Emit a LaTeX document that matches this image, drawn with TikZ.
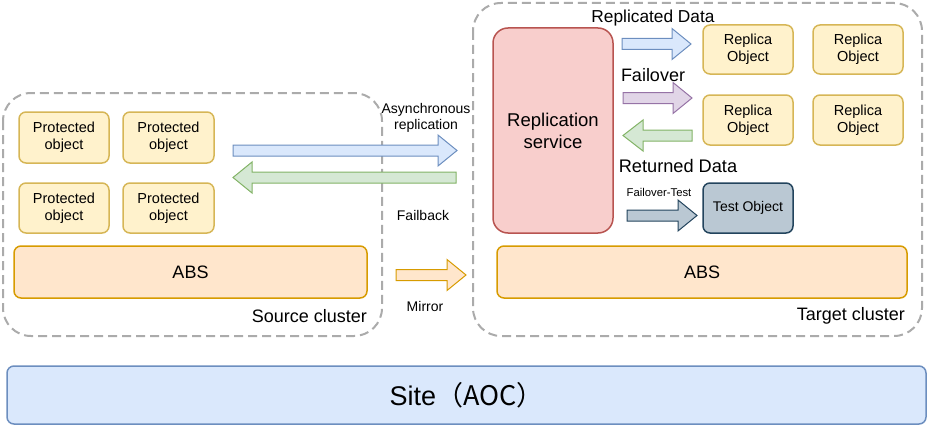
\documentclass[tikz,border=0pt]{standalone}
\usepackage{fontspec}
\setmainfont{Liberation Sans}
\newfontfamily\cjkfont{Noto Sans CJK SC}
\begin{document}
\begin{tikzpicture}[x=1pt,y=-1pt,
  cluster/.style={draw=black!33, line width=2pt, dash pattern=on 9pt off 5pt, rounded corners=28pt},
  prot/.style={draw={rgb,255:red,214;green,182;blue,86}, fill={rgb,255:red,255;green,242;blue,204}, line width=1.5pt, rounded corners=7pt, align=center, font=\fontsize{14.5}{17}\selectfont},
  absbox/.style={draw={rgb,255:red,215;green,155;blue,0}, fill={rgb,255:red,255;green,230;blue,204}, line width=1.5pt, rounded corners=7pt, align=center, font=\fontsize{18}{20}\selectfont},
  blue arr/.style={draw={rgb,255:red,108;green,142;blue,191}, fill={rgb,255:red,218;green,232;blue,252}, line width=1pt},
  green arr/.style={draw={rgb,255:red,130;green,179;blue,102}, fill={rgb,255:red,213;green,232;blue,212}, line width=1pt},
  orange arr/.style={draw={rgb,255:red,215;green,155;blue,0}, fill={rgb,255:red,255;green,230;blue,204}, line width=1pt},
  purple arr/.style={draw={rgb,255:red,150;green,115;blue,166}, fill={rgb,255:red,225;green,213;blue,231}, line width=1pt},
  slate arr/.style={draw={rgb,255:red,35;green,68;blue,93}, fill={rgb,255:red,186;green,200;blue,211}, line width=1pt},
  lbl/.style={inner sep=0pt, align=center}
]
\useasboundingbox (0,0) rectangle (928,428);
% right-pointing block arrow: style, tail x, tip x, centre y, head length
\newcommand\blkR[5]{\draw[#1] (#2,#4-5.5) -- (#3-#5,#4-5.5) -- (#3-#5,#4-15.5) -- (#3,#4) -- (#3-#5,#4+15.5) -- (#3-#5,#4+5.5) -- (#2,#4+5.5) -- cycle;}
% left-pointing block arrow: style, tip x, tail x, centre y, head length
\newcommand\blkL[5]{\draw[#1] (#3,#4-5.5) -- (#2+#5,#4-5.5) -- (#2+#5,#4-15.5) -- (#2,#4) -- (#2+#5,#4+15.5) -- (#2+#5,#4+5.5) -- (#3,#4+5.5) -- cycle;}

% clusters
\draw[cluster] (3,93) rectangle (382,336);
\draw[cluster] (473,3) rectangle (922,336);

% source cluster content
\node[prot, minimum width=90pt, minimum height=51pt] (p1) at (64,137.5) {Protected\\object};
\node[prot, minimum width=91pt, minimum height=51pt] (p2) at (168.5,137.5) {Protected\\object};
\node[prot, minimum width=90pt, minimum height=50pt] (p3) at (64,208) {Protected\\object};
\node[prot, minimum width=91pt, minimum height=50pt] (p4) at (168.5,208) {Protected\\object};
\node[absbox, minimum width=353pt, minimum height=52pt] (abs1) at (190.5,272) {ABS};
\node[lbl, anchor=east, font=\fontsize{18}{20}\selectfont] (srclbl) at (367,316) {Source cluster};

% target cluster content
\node[draw={rgb,255:red,184;green,84;blue,80}, fill={rgb,255:red,248;green,206;blue,204}, line width=1.5pt, rounded corners=15pt, minimum width=120pt, minimum height=205pt, align=center, font=\fontsize{18.5}{22}\selectfont] (rs) at (553,130.5) {Replication\\service};
\node[prot, minimum width=90pt, minimum height=49pt] (r1) at (748,49.5) {Replica\\Object};
\node[prot, minimum width=90pt, minimum height=49pt] (r2) at (858,49.5) {Replica\\Object};
\node[prot, minimum width=90pt, minimum height=50pt] (r3) at (748,120) {Replica\\Object};
\node[prot, minimum width=90pt, minimum height=50pt] (r4) at (858,120) {Replica\\Object};
\node[draw={rgb,255:red,35;green,68;blue,93}, fill={rgb,255:red,186;green,200;blue,211}, line width=1.5pt, rounded corners=7pt, minimum width=90pt, minimum height=50pt, font=\fontsize{14}{16}\selectfont] (test) at (748,208) {Test Object};
\node[absbox, minimum width=410pt, minimum height=52pt] (abs2) at (702,272) {ABS};
\node[lbl, anchor=east, font=\fontsize{18}{20}\selectfont] (tgtlbl) at (905,316) {Target cluster};

% site
\node[draw={rgb,255:red,108;green,142;blue,191}, fill={rgb,255:red,218;green,232;blue,252}, line width=1.5pt, rounded corners=7pt, minimum width=919pt, minimum height=58pt, font=\fontsize{27}{30}\selectfont] (site) at (466.5,395) {Site\cjkfont{（}AOC\cjkfont{）}};

% inter-cluster arrows
\blkR{blue arr}{233}{457}{150.5}{19}
\blkL{green arr}{233}{456}{177.5}{19}
\blkR{orange arr}{396}{466}{275}{19}
\node[lbl, font=\fontsize{14}{16.5}\selectfont] (asynclbl) at (426,118) {Asynchronous\\replication};
\node[lbl, font=\fontsize{14}{16}\selectfont] (fblbl) at (423,215) {Failback};
\node[lbl, font=\fontsize{14}{16}\selectfont] (mirlbl) at (425,306) {Mirror};

% target internal arrows
\blkR{blue arr}{622}{691}{44}{19}
\blkR{purple arr}{623}{692}{98}{19}
\blkL{green arr}{623}{692}{135.5}{20}
\blkR{slate arr}{627}{697}{215.5}{19}
\node[lbl, font=\fontsize{17.3}{19}\selectfont] (rdlbl) at (653,18) {Replicated Data};
\node[lbl, font=\fontsize{18}{20}\selectfont] (folbl) at (653,75) {Failover};
\node[lbl, font=\fontsize{18.2}{20}\selectfont] (retlbl) at (678,166) {Returned Data};
\node[lbl, font=\fontsize{11.3}{13}\selectfont] (ftlbl) at (659,192) {Failover-Test};
\end{tikzpicture}
\end{document}
